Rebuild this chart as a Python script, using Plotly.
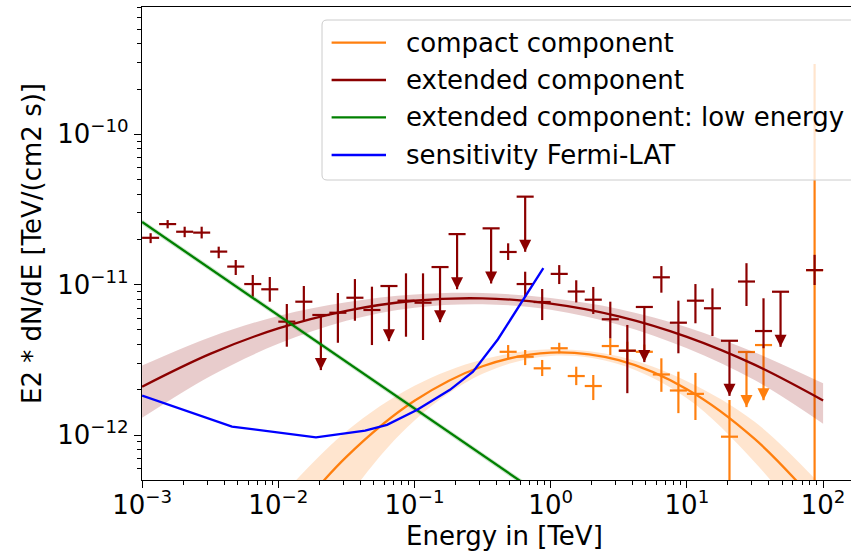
import plotly.graph_objects as go

# ---------------- data ----------------
# extended component: flux points (energy TeV, E2dN/dE, upper and lower error ends)
ext_e = [0.001155, 0.00154, 0.002054, 0.002738, 0.003652, 0.00487, 0.006494, 0.00866,
         0.01155, 0.0154, 0.02738, 0.03652, 0.0487, 0.0866, 0.1155, 0.487, 0.6494,
         0.866, 1.155, 1.54, 2.054, 2.738, 3.652, 6.494, 8.66, 11.55, 15.4, 27.38,
         36.52, 86.6]
ext_f = [2.05e-11, 2.53e-11, 2.25e-11, 2.22e-11, 1.66e-11, 1.32e-11, 1.01e-11, 9.32e-12,
         5.68e-12, 7.71e-12, 6.51e-12, 8.19e-12, 6.79e-12, 7.83e-12, 7.59e-12, 1.65e-11,
         1.01e-11, 7.67e-12, 1.18e-11, 9.01e-12, 7.95e-12, 5.89e-12, 3.64e-12, 1.12e-11,
         5.59e-12, 7.83e-12, 6.97e-12, 1.05e-11, 4.92e-12, 1.25e-11]
ext_f_hi = [2.20e-11, 2.69e-11, 2.43e-11, 2.43e-11, 1.79e-11, 1.46e-11, 1.16e-11, 1.125e-11,
            7.44e-12, 9.80e-12, 8.81e-12, 1.09e-11, 9.70e-12, 1.19e-11, 1.19e-11, 1.885e-11,
            1.22e-11, 9.36e-12, 1.35e-11, 1.07e-11, 9.66e-12, 7.71e-12, 5.40e-12, 1.33e-11,
            7.83e-12, 1.01e-11, 9.46e-12, 1.39e-11, 8.12e-12, 1.58e-11]
ext_f_lo = [1.89e-11, 2.37e-11, 2.07e-11, 2.03e-11, 1.50e-11, 1.16e-11, 8.32e-12, 7.71e-12,
            3.87e-12, 5.82e-12, 4.11e-12, 5.76e-12, 3.97e-12, 4.51e-12, 4.29e-12, 1.46e-11,
            8.32e-12, 5.82e-12, 1.01e-11, 7.62e-12, 6.39e-12, 4.40e-12, 1.90e-12, 8.85e-12,
            3.50e-12, 5.54e-12, 4.56e-12, 7.22e-12, 3.78e-12, 9.95e-12]
# extended component: upper limits
ext_ul_e = [0.02054, 0.06494, 0.154, 0.2054, 0.3652, 0.6494, 4.87, 20.54, 48.7]
ext_ul_f = [6.29e-12, 9.80e-12, 1.31e-11, 2.17e-11, 2.37e-11, 3.85e-11, 7.11e-12, 4.24e-12, 8.98e-12]

# compact component: flux points
cmp_e = [0.487, 0.6494, 0.866, 1.155, 1.54, 2.054, 2.738, 3.652, 4.87, 6.494, 8.66,
         11.55, 20.54, 86.6]
cmp_f = [3.58e-12, 3.32e-12, 2.78e-12, 3.78e-12, 2.47e-12, 2.12e-12, 3.91e-12, 3.64e-12,
         3.58e-12, 2.53e-12, 1.98e-12, 1.88e-12, 9.76e-13, 1.25e-11]
cmp_f_hi = [3.97e-12, 3.68e-12, 3.16e-12, 4.11e-12, 2.85e-12, 2.51e-12, 4.40e-12, 4.18e-12,
            4.00e-12, 3.24e-12, 2.64e-12, 2.59e-12, 1.71e-12, 2.93e-10]
cmp_f_lo = [3.24e-12, 2.92e-12, 2.47e-12, 3.50e-12, 2.15e-12, 1.71e-12, 3.41e-12, 3.03e-12,
            3.15e-12, 1.94e-12, 1.40e-12, 1.26e-12, 1e-15, 1e-15]
cmp_ul_e = [27.38, 36.52]
cmp_ul_f = [3.57e-12, 3.97e-12]

BIN_FACTOR = 1.155      # energy bins: horizontal bars span E/1.155 .. E*1.155
UL_ARROW = 0.43         # upper-limit arrows end at 0.43 x the limit

# models
ext_model_e = [0.001, 0.00316, 0.01, 0.0316, 0.1, 0.316, 1.0, 3.16, 10.0, 31.6, 100.0]
ext_model_f = [2.10e-12, 3.47e-12, 5.12e-12, 6.70e-12, 7.82e-12, 8.11e-12, 7.49e-12,
               6.16e-12, 4.50e-12, 2.93e-12, 1.70e-12]
ext_model_rel = [0.38, 0.29, 0.21, 0.14, 0.10, 0.085, 0.09, 0.12, 0.16, 0.21, 0.30]

cmp_model_e = [0.01, 0.0316, 0.1, 0.316, 1.0, 3.16, 10.0, 31.6, 100.0]
cmp_model_f = [2.2e-13, 7.16e-13, 1.69e-12, 2.87e-12, 3.54e-12, 3.15e-12, 2.02e-12,
               9.40e-13, 3.16e-13]
cmp_model_rel = [0.70, 0.48, 0.26, 0.11, 0.05, 0.06, 0.13, 0.30, 0.42]

low_model_e = [0.001, 0.01, 0.1, 1.0]
low_model_f = [2.61e-11, 6.27e-12, 1.50e-12, 3.6e-13]
low_model_rel = [0.04, 0.04, 0.04, 0.04]

sens_e = [0.001, 0.00457, 0.0189, 0.0434, 0.0628, 0.104, 0.182, 0.269, 0.410, 0.627, 0.883]
sens_f = [1.83e-12, 1.14e-12, 9.66e-13, 1.07e-12, 1.17e-12, 1.47e-12, 2.00e-12, 2.64e-12,
          4.34e-12, 7.91e-12, 1.29e-11]

LEGEND_LABELS = ["compact component", "extended component",
                 "extended component: low energy", "sensitivity Fermi-LAT"]
X_TITLE = "Energy in [TeV]"
Y_TITLE = "E2 * dN/dE [TeV/(cm2 s)]"

C_ORANGE = "#ff7f0e"
C_DARKRED = "#8b0000"
C_GREEN = "#008000"
C_BLUE = "#0000ff"
LEGEND_COLORS = [C_ORANGE, C_DARKRED, C_GREEN, C_BLUE]

FONT = "DejaVu Sans"
FS = 26
LW = 2.3
EW = 2.2

fig = go.Figure()


def band(e, f, rel, rgba):
    hi = [v * (1 + r) for v, r in zip(f, rel)]
    lo = [v * (1 - r) for v, r in zip(f, rel)]
    fig.add_trace(go.Scatter(x=e, y=hi, mode="lines", line=dict(width=0, shape="spline"),
                             showlegend=False, hoverinfo="skip"))
    fig.add_trace(go.Scatter(x=e, y=lo, mode="lines", line=dict(width=0, shape="spline"),
                             fill="tonexty", fillcolor=rgba, showlegend=False, hoverinfo="skip"))


def model(e, f, color, shape="spline"):
    fig.add_trace(go.Scatter(x=e, y=f, mode="lines", line=dict(color=color, width=LW, shape=shape),
                             showlegend=False))


def xerr(e):
    return dict(type="data", symmetric=False,
                array=[v * (BIN_FACTOR - 1) for v in e],
                arrayminus=[v * (1 - 1 / BIN_FACTOR) for v in e])


def points(e, f, fhi, flo, color):
    ex = xerr(e)
    ex.update(color=color, thickness=EW, width=0)
    fig.add_trace(go.Scatter(
        x=e, y=f, mode="markers", marker=dict(size=0.01, color=color), showlegend=False,
        error_x=ex,
        error_y=dict(type="data", symmetric=False,
                     array=[h - v for h, v in zip(fhi, f)],
                     arrayminus=[v - l for v, l in zip(f, flo)],
                     color=color, thickness=EW, width=0)))


def ulimits(e, f, color):
    ex = xerr(e)
    ex.update(color=color, thickness=EW, width=0)
    fig.add_trace(go.Scatter(
        x=e, y=f, mode="markers", marker=dict(size=0.01, color=color), showlegend=False,
        error_x=ex,
        error_y=dict(type="data", symmetric=False, array=[0] * len(f),
                     arrayminus=[v * (1 - UL_ARROW) for v in f],
                     color=color, thickness=EW, width=0)))
    fig.add_trace(go.Scatter(
        x=e, y=[v * UL_ARROW for v in f], mode="markers", showlegend=False,
        marker=dict(symbol="arrow-down", size=12, color=color, line=dict(width=0))))


# compact component
band(cmp_model_e, cmp_model_f, cmp_model_rel, "rgba(255,127,14,0.2)")
model(cmp_model_e, cmp_model_f, C_ORANGE)
points(cmp_e, cmp_f, cmp_f_hi, cmp_f_lo, C_ORANGE)
ulimits(cmp_ul_e, cmp_ul_f, C_ORANGE)

# extended component
band(ext_model_e, ext_model_f, ext_model_rel, "rgba(139,0,0,0.2)")
model(ext_model_e, ext_model_f, C_DARKRED)
points(ext_e, ext_f, ext_f_hi, ext_f_lo, C_DARKRED)
ulimits(ext_ul_e, ext_ul_f, C_DARKRED)

# extended component: low energy
band(low_model_e, low_model_f, low_model_rel, "rgba(0,128,0,0.2)")
model(low_model_e, low_model_f, C_GREEN, shape="linear")

# sensitivity
model(sens_e, sens_f, C_BLUE, shape="linear")

# ---------------- layout ----------------
W, H = 851, 557
ML, MR, MT, MB = 142, 0, 7, 77
PW, PH = W - ML - MR, H - MT - MB


def px(x):
    return (x - ML) / PW


def py(y):
    return 1 - (y - MT) / PH


x_major = [10.0 ** p for p in range(-3, 3)]
x_text = ["10<sup>\u2212%d</sup>" % (-p) if p < 0 else "10<sup>%d</sup>" % p for p in range(-3, 3)]
x_minor = [m * 10.0 ** p for p in range(-3, 3) for m in range(2, 10)]
y_major = [10.0 ** p for p in range(-12, -9)]
y_text = ["10<sup>\u2212%d</sup>" % (-p) for p in range(-12, -9)]
y_minor = [m * 10.0 ** p for p in range(-13, -9) for m in range(2, 10)]

axis_common = dict(type="log", showgrid=False, zeroline=False, showline=True,
                   linecolor="black", linewidth=1.3, ticks="outside", ticklen=7,
                   tickwidth=1.3, tickcolor="black", tickmode="array",
                   tickfont=dict(family=FONT, size=FS, color="black"))

fig.update_xaxes(**axis_common, range=[-3.0007, 2.2048], tickvals=x_major, ticktext=x_text,
                 mirror=True, ticklabelstandoff=-5,
                 minor=dict(tickmode="array", tickvals=x_minor, ticks="outside", ticklen=4,
                            tickwidth=1, tickcolor="black", showgrid=False))
fig.update_yaxes(**axis_common, range=[-12.2985, -9.1536], tickvals=y_major, ticktext=y_text,
                 mirror=False,
                 minor=dict(tickmode="array", tickvals=y_minor, ticks="outside", ticklen=4,
                            tickwidth=1, tickcolor="black", showgrid=False),
                 title=dict(text=Y_TITLE, font=dict(family=FONT, size=FS, color="black"),
                            standoff=8))

# legend (drawn as a framed box with line samples and labels)
xl, xr = px(322), px(890)
yt, yb = py(20), py(180)
rx, ry = 5 / PW, 5 / PH
legend_path = (f"M {xl+rx},{yt} L {xr-rx},{yt} Q {xr},{yt} {xr},{yt-ry} L {xr},{yb+ry} "
               f"Q {xr},{yb} {xr-rx},{yb} L {xl+rx},{yb} Q {xl},{yb} {xl},{yb+ry} "
               f"L {xl},{yt-ry} Q {xl},{yt} {xl+rx},{yt} Z")
shapes = [dict(type="path", path=legend_path, xref="paper", yref="paper",
               fillcolor="rgba(255,255,255,0.8)", line=dict(color="#cccccc", width=1),
               layer="above")]
annotations = []
row_y = [42.7, 80.0, 117.3, 155.0]
for label, color, yy in zip(LEGEND_LABELS, LEGEND_COLORS, row_y):
    shapes.append(dict(type="line", xref="paper", yref="paper", x0=px(331.6), x1=px(386),
                       y0=py(yy), y1=py(yy), line=dict(color=color, width=LW), layer="above"))
    annotations.append(dict(text=label, xref="paper", yref="paper", x=px(404), y=py(yy),
                            xanchor="left", yanchor="middle", showarrow=False,
                            font=dict(family=FONT, size=FS, color="black")))

# x-axis title (centred on the full, partly cropped axes as in the reference)
annotations.append(dict(text=X_TITLE, xref="paper", yref="paper", x=px(504.5), y=py(536),
                        xanchor="center", yanchor="middle", showarrow=False,
                        font=dict(family=FONT, size=FS, color="black")))

fig.update_layout(width=W, height=H, margin=dict(l=ML, r=MR, t=MT, b=MB, autoexpand=False),
                  paper_bgcolor="white", plot_bgcolor="white", showlegend=False,
                  font=dict(family=FONT, size=FS, color="black"),
                  shapes=shapes, annotations=annotations)

fig.write_html("out.html")
